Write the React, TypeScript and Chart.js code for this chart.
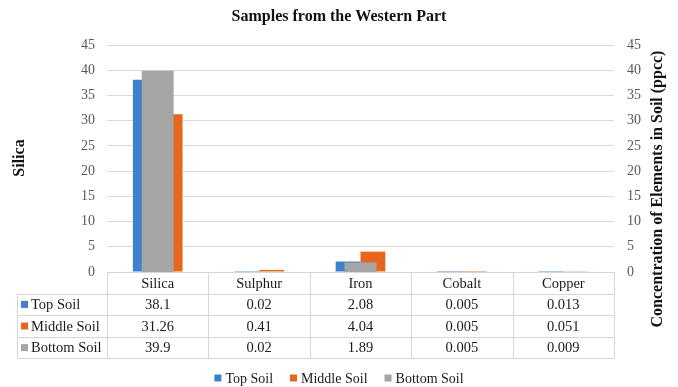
import { useEffect, useRef } from "react";
import { Chart, registerables } from "chart.js";

Chart.register(...registerables);

// Element concentrations (ppcc) by soil layer
const elements = ["Silica", "Sulphur", "Iron", "Cobalt", "Copper"];
const topSoil = [38.1, 0.02, 2.08, 0.005, 0.013];
const middleSoil = [31.26, 0.41, 4.04, 0.005, 0.051];
const bottomSoil = [39.9, 0.02, 1.89, 0.005, 0.009];
const seriesNames = ["Top Soil", "Middle Soil", "Bottom Soil"];
const seriesColors = ["#3F80CC", "#E8661C", "#A5A5A5"];
const axisMin = 0;
const axisMax = 45;
const axisStep = 5;

const chartTitle = "Samples from the Western Part";
const leftAxisTitle = "Silica";
const rightAxisTitle = "Concentration of Elements in Soil (ppcc)";

const SERIF = "'Liberation Serif', 'Times New Roman', serif";
const W = 678;
const H = 387;

// Draws the title, the rotated axis titles, the data table and the legend.
const decorations = {
  id: "decorations",
  afterDraw(chart: Chart) {
    const ctx = chart.ctx;
    const { left, right, bottom } = chart.chartArea;
    const colW = (right - left) / elements.length;
    const rowH = 21.6;
    const tableLeft = 17;
    const rows = [topSoil, middleSoil, bottomSoil];

    ctx.save();

    // title
    ctx.fillStyle = "#111";
    ctx.font = `bold 16px ${SERIF}`;
    ctx.textAlign = "center";
    ctx.textBaseline = "middle";
    ctx.fillText(chartTitle, W / 2, 17);

    // axis titles (both read bottom-to-top)
    ctx.font = `bold 16px ${SERIF}`;
    ctx.save();
    ctx.translate(20, 158);
    ctx.rotate(-Math.PI / 2);
    ctx.fillText(leftAxisTitle, 0, 0);
    ctx.restore();
    ctx.save();
    ctx.translate(658, 189);
    ctx.rotate(-Math.PI / 2);
    ctx.fillText(rightAxisTitle, 0, 0);
    ctx.restore();

    // data table grid
    ctx.strokeStyle = "#d6d6d6";
    ctx.lineWidth = 1;
    const px = (v: number) => Math.round(v) + 0.5;
    ctx.beginPath();
    ctx.moveTo(px(left), px(bottom));
    ctx.lineTo(px(right), px(bottom));
    for (let r = 1; r <= 4; r++) {
      const y = px(bottom + r * rowH);
      ctx.moveTo(px(tableLeft), y);
      ctx.lineTo(px(right), y);
    }
    for (let c = 0; c <= elements.length; c++) {
      const x = px(left + c * colW);
      ctx.moveTo(x, px(bottom));
      ctx.lineTo(x, px(bottom + 4 * rowH));
    }
    ctx.moveTo(px(tableLeft), px(bottom + rowH));
    ctx.lineTo(px(tableLeft), px(bottom + 4 * rowH));
    ctx.stroke();

    // table text
    ctx.fillStyle = "#1a1a1a";
    ctx.font = `14.5px ${SERIF}`;
    ctx.textAlign = "center";
    ctx.textBaseline = "middle";
    elements.forEach((name, c) => {
      ctx.fillText(name, left + (c + 0.5) * colW, bottom + rowH / 2 + 1);
    });
    rows.forEach((vals, r) => {
      const cy = bottom + (r + 1.5) * rowH + 1;
      vals.forEach((v, c) => {
        ctx.fillText(String(v), left + (c + 0.5) * colW, cy);
      });
    });
    ctx.textAlign = "left";
    seriesNames.forEach((name, r) => {
      const cy = bottom + (r + 1.5) * rowH;
      ctx.fillStyle = seriesColors[r];
      ctx.fillRect(21, cy - 3.5, 7, 7);
      ctx.fillStyle = "#1a1a1a";
      ctx.fillText(name, 31, cy + 1);
    });

    // legend
    ctx.font = `14px ${SERIF}`;
    const legendY = 378;
    const box = 7;
    const gapBoxText = 4;
    const gapItems = 17;
    const widths = seriesNames.map((n) => box + gapBoxText + ctx.measureText(n).width);
    const total = widths.reduce((a, b) => a + b, 0) + gapItems * (widths.length - 1);
    let x = W / 2 - total / 2;
    seriesNames.forEach((name, i) => {
      ctx.fillStyle = seriesColors[i];
      ctx.fillRect(x, legendY - 3.5, box, box);
      ctx.fillStyle = "#1a1a1a";
      ctx.fillText(name, x + box + gapBoxText, legendY + 1);
      x += widths[i] + gapItems;
    });

    ctx.restore();
  },
};

export default function App() {
  const canvasRef = useRef<HTMLCanvasElement | null>(null);

  useEffect(() => {
    const canvas = canvasRef.current;
    if (!canvas) return;
    const tickFont = { family: SERIF, size: 14 };
    const chart = new Chart(canvas, {
      type: "bar",
      data: {
        labels: elements,
        datasets: [
          {
            label: seriesNames[0],
            data: topSoil,
            backgroundColor: seriesColors[0],
            yAxisID: "y",
            categoryPercentage: 0.49,
            barPercentage: 1,
            borderWidth: 0,
            order: 0,
          },
          {
            label: seriesNames[1],
            data: middleSoil,
            backgroundColor: seriesColors[1],
            yAxisID: "y",
            categoryPercentage: 0.49,
            barPercentage: 1,
            borderWidth: 0,
            order: 0,
          },
          {
            label: seriesNames[2],
            data: bottomSoil,
            backgroundColor: seriesColors[2],
            yAxisID: "y2",
            grouped: false,
            categoryPercentage: 0.315,
            barPercentage: 1,
            borderWidth: 0,
            order: -1,
          },
        ],
      },
      options: {
        animation: false,
        responsive: false,
        devicePixelRatio: 1,
        layout: { padding: { top: 45, bottom: 115, left: 0, right: 0 } },
        plugins: {
          legend: { display: false },
          title: { display: false },
          tooltip: { enabled: false },
        },
        scales: {
          x: {
            type: "category",
            offset: true,
            ticks: { display: false },
            grid: { display: false, drawTicks: false },
            border: { display: true, color: "#d6d6d6" },
          },
          y: {
            position: "left",
            min: axisMin,
            max: axisMax,
            ticks: { stepSize: axisStep, color: "#595959", font: tickFont, padding: 12 },
            grid: { color: "#d9d9d9", drawTicks: false },
            border: { display: false },
            afterFit: (s: any) => {
              s.width = 107;
            },
          },
          y2: {
            position: "right",
            min: axisMin,
            max: axisMax,
            ticks: { stepSize: axisStep, color: "#595959", font: tickFont, padding: 13 },
            grid: { display: false, drawTicks: false },
            border: { display: false },
            afterFit: (s: any) => {
              s.width = 64;
            },
          },
        },
      },
      plugins: [decorations],
    });
    return () => chart.destroy();
  }, []);

  return (
    <div style={{ position: "fixed", left: 0, top: 0, width: W, height: H, background: "#fff" }}>
      <canvas ref={canvasRef} width={W} height={H} />
    </div>
  );
}
